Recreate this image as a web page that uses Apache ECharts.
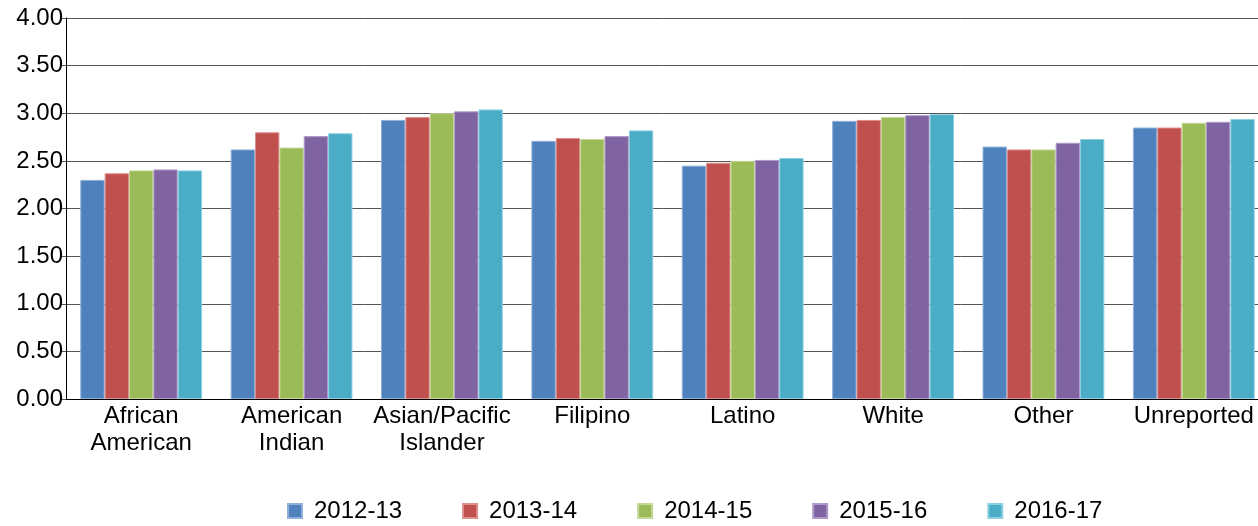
<!DOCTYPE html>
<html>
<head>
<meta charset="utf-8">
<script src="https://cdn.jsdelivr.net/npm/echarts@6/dist/echarts.min.js"></script>
<style>
  html, body { margin: 0; padding: 0; background: #ffffff; }
  #chart { width: 1258px; height: 526px; }
</style>
</head>
<body>
<div id="chart"></div>
<script>
// categories and yearly values
const categories = ['African\nAmerican', 'American\nIndian', 'Asian/Pacific\nIslander', 'Filipino', 'Latino', 'White', 'Other', 'Unreported'];
const years = ['2012-13', '2013-14', '2014-15', '2015-16', '2016-17'];
const v2012 = [2.30, 2.62, 2.93, 2.71, 2.45, 2.92, 2.65, 2.85];
const v2013 = [2.37, 2.80, 2.96, 2.74, 2.48, 2.93, 2.62, 2.85];
const v2014 = [2.40, 2.64, 3.00, 2.73, 2.50, 2.96, 2.62, 2.90];
const v2015 = [2.41, 2.76, 3.02, 2.76, 2.51, 2.98, 2.69, 2.91];
const v2016 = [2.40, 2.79, 3.04, 2.82, 2.53, 2.99, 2.73, 2.94];
const yTicks = ['0.00', '0.50', '1.00', '1.50', '2.00', '2.50', '3.00', '3.50', '4.00'];

const colors = ['#4F81BD', '#C0504D', '#9BBB59', '#8064A2', '#4BACC6'];
const borders = ['#8FB0D8', '#DC8E8C', '#C4DA98', '#AE9AC8', '#8DD0E2'];
const values = [v2012, v2013, v2014, v2015, v2016];
const font = 'Liberation Sans, Arial, sans-serif';

const chart = echarts.init(document.getElementById('chart'));
chart.setOption({
  animation: false,
  color: colors,
  // the plot runs a little past the right edge, as in the picture
  grid: { left: 66, width: 1203, top: 18, bottom: 127, outerBoundsMode: 'none' },
  legend: {
    data: years,
    left: 282,
    top: 487,
    icon: 'rect',
    itemWidth: 14,
    itemHeight: 14,
    itemGap: 60,
    textStyle: { fontFamily: font, fontSize: 24, color: '#000', lineHeight: 24, padding: [14, 0, 0, 7] }
  },
  xAxis: {
    type: 'category',
    data: categories,
    axisLine: { lineStyle: { color: '#000', width: 1 } },
    axisTick: { show: false },
    axisLabel: { fontFamily: font, fontSize: 24, color: '#000', lineHeight: 27, margin: 4, interval: 0 }
  },
  yAxis: {
    type: 'value',
    min: 0,
    max: 4,
    interval: 0.5,
    axisLine: { show: true, lineStyle: { color: '#000', width: 1 } },
    axisTick: { show: true, length: 6, lineStyle: { color: '#555' } },
    splitLine: { lineStyle: { color: '#555', width: 1 } },
    axisLabel: {
      fontFamily: font, fontSize: 24, color: '#000', margin: 3,
      formatter: function (v) { return yTicks[Math.round(v / 0.5)]; }
    }
  },
  series: values.map(function (d, i) {
    return {
      name: years[i],
      type: 'bar',
      data: d,
      barGap: '0%',
      barCategoryGap: '19%',
      itemStyle: { color: colors[i], borderColor: borders[i], borderWidth: 1 }
    };
  })
});
</script>
</body>
</html>
